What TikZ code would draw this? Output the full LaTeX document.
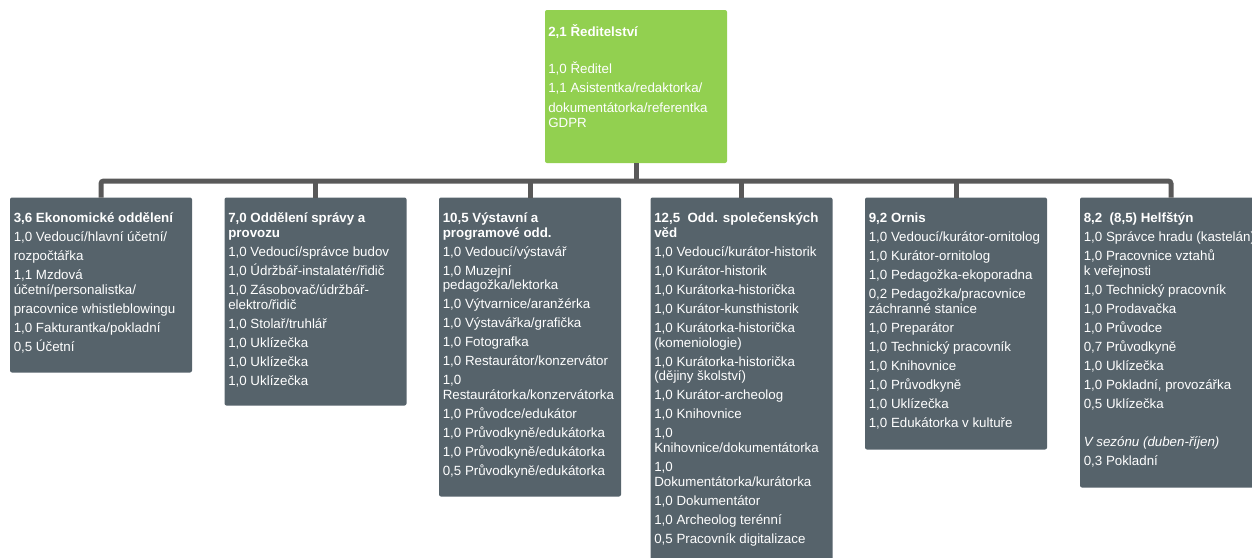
\documentclass[tikz,border=0pt]{standalone}
\usepackage{fontspec}
\setmainfont{Liberation Sans}
\definecolor{deptgray}{RGB}{86,99,107}
\definecolor{headgreen}{RGB}{146,208,80}
\definecolor{linegray}{RGB}{89,89,89}
\newcommand{\rowgap}{\\[3.25pt]}
\tikzset{
	orgline/.style={draw=linegray,line width=3.75pt},
	deptbox/.style={fill=deptgray,rounded corners=1.5pt,inner sep=0,outer sep=0,minimum width=136.5pt,anchor=north},
	headbox/.style={deptbox,fill=headgreen},
	depttext/.style={text=white,font=\fontsize{10}{11}\selectfont,align=left,inner sep=0,anchor=north west,execute at begin node=\rule{0pt}{9pt}}
}

\begin{document}
\begin{tikzpicture}[x=0.75pt,y=-0.75pt]
	\useasboundingbox (0,0) rectangle (1252,557);
	\node[headbox,minimum height=114.75pt] (head) at (636,10) {};
	\node[deptbox,minimum height=131.25pt] (ekon) at (101,197.5) {};
	\node[deptbox,minimum height=156pt] (sprava) at (315.5,197.5) {};
	\node[deptbox,minimum height=224.25pt] (vystav) at (530,197.5) {};
	\node[deptbox,minimum height=277.5pt] (spol) at (741.5,197.5) {};
	\node[deptbox,minimum height=189pt] (ornis) at (956,197.5) {};
	\node[deptbox,minimum height=217.5pt] (helf) at (1171,197.5) {};
	\node[depttext] (headtext) at ([shift={(3,14.5)}]head.north west) {\textbf{2,1 Ředitelství}\\[16.75pt]
		1,0 Ředitel\rowgap
		1,1 Asistentka/redaktorka/\\[4pt]
		dokumentátorka/referentka\\
		GDPR};
	\node[depttext] (ekontext) at ([shift={(3.5,15)}]ekon.north west) {\textbf{3,6 Ekonomické oddělení}\rowgap
		1,0 Vedoucí/hlavní účetní/\rowgap
		rozpočtářka\rowgap
		1,1 Mzdová\\
		účetní/personalistka/\rowgap
		pracovnice whistleblowingu\rowgap
		1,0 Fakturantka/pokladní\rowgap
		0,5 Účetní};
	\node[depttext] (spravatext) at ([shift={(3.5,15)}]sprava.north west) {\textbf{7,0 Oddělení správy a}\\
		\textbf{provozu}\rowgap
		1,0 Vedoucí/správce budov\rowgap
		1,0 Údržbář-instalatér/řidič\rowgap
		1,0 Zásobovač/údržbář-\\
		elektro/řidič\rowgap
		1,0 Stolař/truhlář\rowgap
		1,0 Uklízečka\rowgap
		1,0 Uklízečka\rowgap
		1,0 Uklízečka};
	\node[depttext] (vystavtext) at ([shift={(3.5,15)}]vystav.north west) {\textbf{10,5 Výstavní a}\\
		\textbf{programové odd.}\rowgap
		1,0 Vedoucí/výstavář\rowgap
		1,0 Muzejní\\
		pedagožka/lektorka\rowgap
		1,0 Výtvarnice/aranžérka\rowgap
		1,0 Výstavářka/grafička\rowgap
		1,0 Fotografka\rowgap
		1,0 Restaurátor/konzervátor\rowgap
		1,0\\
		Restaurátorka/konzervátorka\rowgap
		1,0 Průvodce/edukátor\rowgap
		1,0 Průvodkyně/edukátorka\rowgap
		1,0 Průvodkyně/edukátorka\rowgap
		0,5 Průvodkyně/edukátorka};
	\node[depttext] (spoltext) at ([shift={(3.5,15)}]spol.north west) {\textbf{12,5\ \ Odd. společenských}\\
		\textbf{věd}\rowgap
		1,0 Vedoucí/kurátor-historik\rowgap
		1,0 Kurátor-historik\rowgap
		1,0 Kurátorka-historička\rowgap
		1,0 Kurátor-kunsthistorik\rowgap
		1,0 Kurátorka-historička\\
		(komeniologie)\rowgap
		1,0 Kurátorka-historička\\
		(dějiny školství)\rowgap
		1,0 Kurátor-archeolog\rowgap
		1,0 Knihovnice\rowgap
		1,0\\
		Knihovnice/dokumentátorka\rowgap
		1,0\\
		Dokumentátorka/kurátorka\rowgap
		1,0 Dokumentátor\rowgap
		1,0 Archeolog terénní\rowgap
		0,5 Pracovník digitalizace};
	\node[depttext] (ornistext) at ([shift={(3.5,15)}]ornis.north west) {\textbf{9,2 Ornis}\rowgap
		1,0 Vedoucí/kurátor-ornitolog\rowgap
		1,0 Kurátor-ornitolog\rowgap
		1,0 Pedagožka-ekoporadna\rowgap
		0,2 Pedagožka/pracovnice\\
		záchranné stanice\rowgap
		1,0 Preparátor\rowgap
		1,0 Technický pracovník\rowgap
		1,0 Knihovnice\rowgap
		1,0 Průvodkyně\rowgap
		1,0 Uklízečka\rowgap
		1,0 Edukátorka v kultuře};
	\node[depttext] (helftext) at ([shift={(3.5,15)}]helf.north west) {\textbf{8,2\ \ (8,5) Helfštýn}\rowgap
		1,0 Správce hradu (kastelán)\rowgap
		1,0 Pracovnice vztahů\\
		k veřejnosti\rowgap
		1,0 Technický pracovník\rowgap
		1,0 Prodavačka\rowgap
		1,0 Průvodce\rowgap
		0,7 Průvodkyně\rowgap
		1,0 Uklízečka\rowgap
		1,0 Pokladní, provozářka\rowgap
		0,5 Uklízečka\\[17.5pt]
		\textit{V sezónu (duben-říjen)}\rowgap
		0,3 Pokladní};
	\coordinate (bus) at (636,181);
	\draw[orgline] (head) -- (bus);
	\draw[orgline,rounded corners=2pt] (ekon.north) |- (bus) -| (helf.north);
	\foreach \dept in {sprava,vystav,spol,ornis}
		\draw[orgline] (\dept.north) -- (\dept.north |- bus);
\end{tikzpicture}
\end{document}
